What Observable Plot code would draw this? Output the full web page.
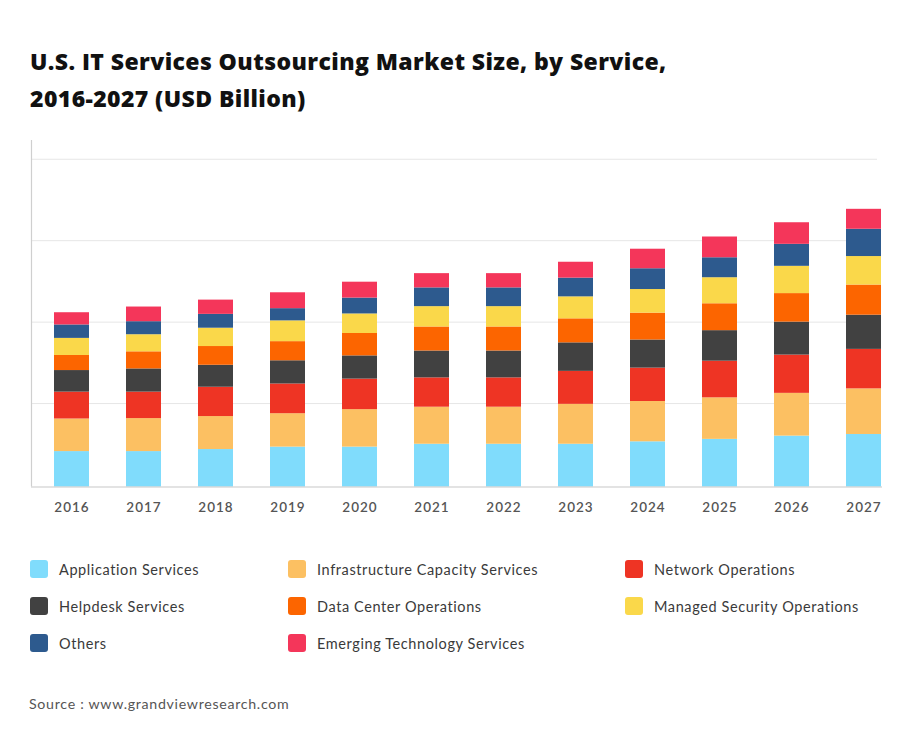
<!DOCTYPE html>
<html>
<head>
<meta charset="utf-8">
<script src="https://cdn.jsdelivr.net/npm/d3@7"></script>
<script src="https://cdn.jsdelivr.net/npm/@observablehq/plot@0.6"></script>
<style>
  html, body { margin: 0; padding: 0; background: #fff; }
  #page { position: relative; width: 918px; height: 733px; overflow: hidden; font-family: Lato, "Open Sans", sans-serif; }
  #title { position: absolute; left: 30px; top: 43px; font-family: "Open Sans", sans-serif; font-weight: 800; font-size: 23px; line-height: 37px; color: #111; letter-spacing: 0.4px; }
  #chart { position: absolute; left: 0; top: 130px; }
  .leg { position: absolute; display: flex; align-items: center; font-size: 14.5px; color: #3a3a3a; letter-spacing: 0.6px; }
  .sw { width: 18px; height: 18px; border-radius: 3px; margin-right: 11px; }
  #source { position: absolute; left: 29px; top: 695px; font-size: 14.2px; color: #555; letter-spacing: 0.7px; }
</style>
</head>
<body>
<div id="page">
  <div id="title">U.S. IT Services Outsourcing Market Size, by Service,<br>2016-2027 (USD Billion)</div>
  <div id="chart"></div>
  <div id="legend"></div>
  <div id="source">Source : www.grandviewresearch.com</div>
</div>
<script>
const years = ["2016","2017","2018","2019","2020","2021","2022","2023","2024","2025","2026","2027"];
const seriesNames = [
  "Application Services",
  "Infrastructure Capacity Services",
  "Network Operations",
  "Helpdesk Services",
  "Data Center Operations",
  "Managed Security Operations",
  "Others",
  "Emerging Technology Services"
];
const seriesColors = ["#80dcfc", "#fcc062", "#ee3424", "#414141", "#fc6500", "#fad84a", "#2d5a8e", "#f4365a"];

const application    = [8.7, 8.7, 9.2, 9.8, 9.8, 10.5, 10.5, 10.5, 11.1, 11.7, 12.5, 12.9];
const infrastructure = [8.0, 8.1, 8.1, 8.2, 9.2, 9.1, 9.1, 9.8, 9.9, 10.2, 10.5, 11.2];
const network        = [6.6, 6.5, 7.2, 7.3, 7.5, 7.2, 7.2, 8.1, 8.2, 9.0, 9.4, 9.7];
const helpdesk       = [5.3, 5.7, 5.4, 5.7, 5.7, 6.6, 6.6, 7.0, 6.9, 7.5, 8.1, 8.4];
const dataCenter     = [3.7, 4.2, 4.6, 4.7, 5.5, 5.9, 5.9, 5.9, 6.6, 6.6, 7.0, 7.4];
const security       = [4.2, 4.2, 4.5, 5.1, 4.8, 5.0, 5.0, 5.4, 5.8, 6.4, 6.7, 7.0];
const others         = [3.3, 3.2, 3.4, 3.0, 3.9, 4.6, 4.6, 4.6, 5.1, 4.9, 5.4, 6.7];
const emerging       = [3.0, 3.6, 3.5, 3.9, 3.9, 3.5, 3.5, 3.9, 4.8, 5.1, 5.3, 4.9];
const gridTicks = [20, 40, 60, 80];

const seriesValues = [application, infrastructure, network, helpdesk, dataCenter, security, others, emerging];
const rows = [];
seriesNames.forEach((name, si) => {
  years.forEach((year, yi) => rows.push({year, series: name, value: seriesValues[si][yi]}));
});

const plot = Plot.plot({
  width: 918,
  height: 400,
  marginLeft: 31,
  marginRight: 14,
  marginTop: 10,
  marginBottom: 43.5,
  style: { fontFamily: "Lato, 'Open Sans', sans-serif", background: "transparent" },
  x: { domain: years, paddingInner: 0.515, paddingOuter: 0.3, label: null },
  y: { domain: [0, 85.1], axis: null },
  color: { domain: seriesNames, range: seriesColors },
  marks: [
    Plot.ruleY(gridTicks, { stroke: "#e6e6e6", strokeWidth: 1, insetRight: 27, dy: -2 }),
    Plot.barY(rows, { x: "year", y: "value", fill: "series", order: seriesNames }),
    Plot.ruleY([0], { stroke: "#c8c8c8", strokeWidth: 1.2, insetRight: 22 }),
    Plot.axisX({ tickSize: 0, tickPadding: 15, fontSize: 13.5, fontWeight: 600, fill: "#555", label: null })
  ]
});
document.getElementById("chart").appendChild(plot);

// vertical axis line on the left
const ys = plot.scale("y");
d3.select(plot).append("line")
  .attr("x1", 31.5).attr("x2", 31.5)
  .attr("y1", 10).attr("y2", ys.apply(0))
  .attr("stroke", "#cfcfcf").attr("stroke-width", 1.2);
d3.select(plot).selectAll("g[aria-label='x-axis tick label'] text").style("letter-spacing", "1px");

// legend
const legendPos = [[30, 560], [288, 560], [625, 560], [30, 597], [288, 597], [625, 597], [30, 634], [288, 634]];
const legendOrder = [0, 1, 2, 3, 4, 5, 6, 7];
const legend = document.getElementById("legend");
legendOrder.forEach((si, i) => {
  const d = document.createElement("div");
  d.className = "leg";
  d.style.left = legendPos[i][0] + "px";
  d.style.top = legendPos[i][1] + "px";
  d.innerHTML = `<span class="sw" style="background:${seriesColors[si]}"></span><span>${seriesNames[si]}</span>`;
  legend.appendChild(d);
});
</script>
</body>
</html>
